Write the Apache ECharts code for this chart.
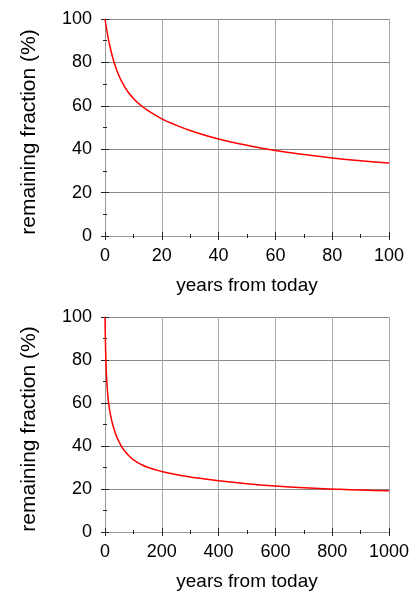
<!DOCTYPE html>
<html><head><meta charset="utf-8">
<script src="https://cdn.jsdelivr.net/npm/echarts@6/dist/echarts.min.js"></script>
<style>html,body{margin:0;padding:0;background:#fff}#c{width:413px;height:592px}</style>
</head><body><div id="c"></div>
<script>
// Top panel: years 0-100
const yearsTop = [0,0.5,1,2,3,4,5,6,8,10,12,15,20,25,30,40,50,60,70,80,90,100];
const fracTop  = [100,95.8,92.1,85.9,80.9,76.9,73.6,70.9,66.6,63.4,60.9,57.9,54.0,51.1,48.6,44.7,41.8,39.4,37.6,36.0,34.7,33.6];
// Bottom panel: years 0-1000
const yearsBot = [0,1,2,3,4,5,6,8,10,12,15,20,25,30,40,50,60,70,80,90,100,125,150,200,250,300,400,500,600,700,800,900,1000];
const fracBot  = [100,92.1,85.9,80.9,76.9,73.6,70.9,66.6,63.4,60.9,57.9,54.0,51.1,48.6,44.7,41.8,39.4,37.6,36.0,34.7,33.6,31.6,30.1,28.1,26.7,25.6,23.8,22.4,21.4,20.6,20.0,19.5,19.2];
const xTitle = 'years from today';
const yTitle = 'remaining fraction (%)';

const FONT = 'Liberation Sans, Arial, sans-serif';
const chart = echarts.init(document.getElementById('c'), null, {renderer:'canvas'});
const grids = [
  {left:105, right:24, top:19, height:217},
  {left:105, right:24, top:317, height:216}
];
const tickStyle = {color:'#222', width:1};
function xAxes(gi, max, interval) {
  return [{
    type:'value', gridIndex:gi, min:0, max:max, interval:interval, position:'bottom',
    name:xTitle, nameLocation:'middle', nameGap:40,
    nameTextStyle:{fontFamily:FONT, fontSize:19, color:'#000'},
    axisLine:{show:true, lineStyle:{color:'#999', width:1}},
    axisTick:{show:true, inside:true, length:4, lineStyle:tickStyle},
    minorTick:{show:true, splitNumber:2, length:2, lineStyle:tickStyle},
    axisLabel:{fontFamily:FONT, fontSize:18, color:'#000', margin:11, formatter:v=>String(v)},
    splitLine:{show:true, lineStyle:{color:'#a8a8a8', width:1}}
  },{
    type:'value', gridIndex:gi, min:0, max:max, interval:interval, position:'top',
    axisLine:{show:true, lineStyle:{color:'#999', width:1}},
    axisTick:{show:true, inside:true, length:4, lineStyle:tickStyle},
    minorTick:{show:true, splitNumber:2, length:2, lineStyle:tickStyle},
    axisLabel:{show:false}, splitLine:{show:false}
  }];
}
function yAxes(gi) {
  return [{
    type:'value', gridIndex:gi, min:0, max:100, interval:20, position:'left',
    name:yTitle, nameLocation:'middle', nameGap:65,
    nameTextStyle:{fontFamily:FONT, fontSize:21, color:'#000', padding:[0,9,0,0]},
    axisLine:{show:true, lineStyle:{color:'#999', width:1}},
    axisTick:{show:true, inside:true, length:4, lineStyle:tickStyle},
    minorTick:{show:true, splitNumber:2, length:2, lineStyle:tickStyle},
    axisLabel:{fontFamily:FONT, fontSize:18, color:'#000', margin:13},
    splitLine:{show:true, lineStyle:{color:'#888', width:1}}
  },{
    type:'value', gridIndex:gi, min:0, max:100, interval:20, position:'right',
    axisLine:{show:true, lineStyle:{color:'#999', width:1}},
    axisTick:{show:true, inside:true, length:4, lineStyle:tickStyle},
    minorTick:{show:true, splitNumber:2, length:2, lineStyle:tickStyle},
    axisLabel:{show:false}, splitLine:{show:false}
  }];
}
const option = {
  animation:false,
  backgroundColor:'#fff',
  grid: grids,
  xAxis: [...xAxes(0,100,20), ...xAxes(1,1000,200)],
  yAxis: [...yAxes(0), ...yAxes(1)],
  series: [
    {type:'line', xAxisIndex:0, yAxisIndex:0, data:yearsTop.map((x,i)=>[x,fracTop[i]]),
     showSymbol:false, smooth:true, lineStyle:{color:'#ff0000', width:1.5}},
    {type:'line', xAxisIndex:2, yAxisIndex:2, data:yearsBot.map((x,i)=>[x,fracBot[i]]),
     showSymbol:false, smooth:true, lineStyle:{color:'#ff0000', width:1.5}}
  ]
};
chart.setOption(option);
</script></body></html>
